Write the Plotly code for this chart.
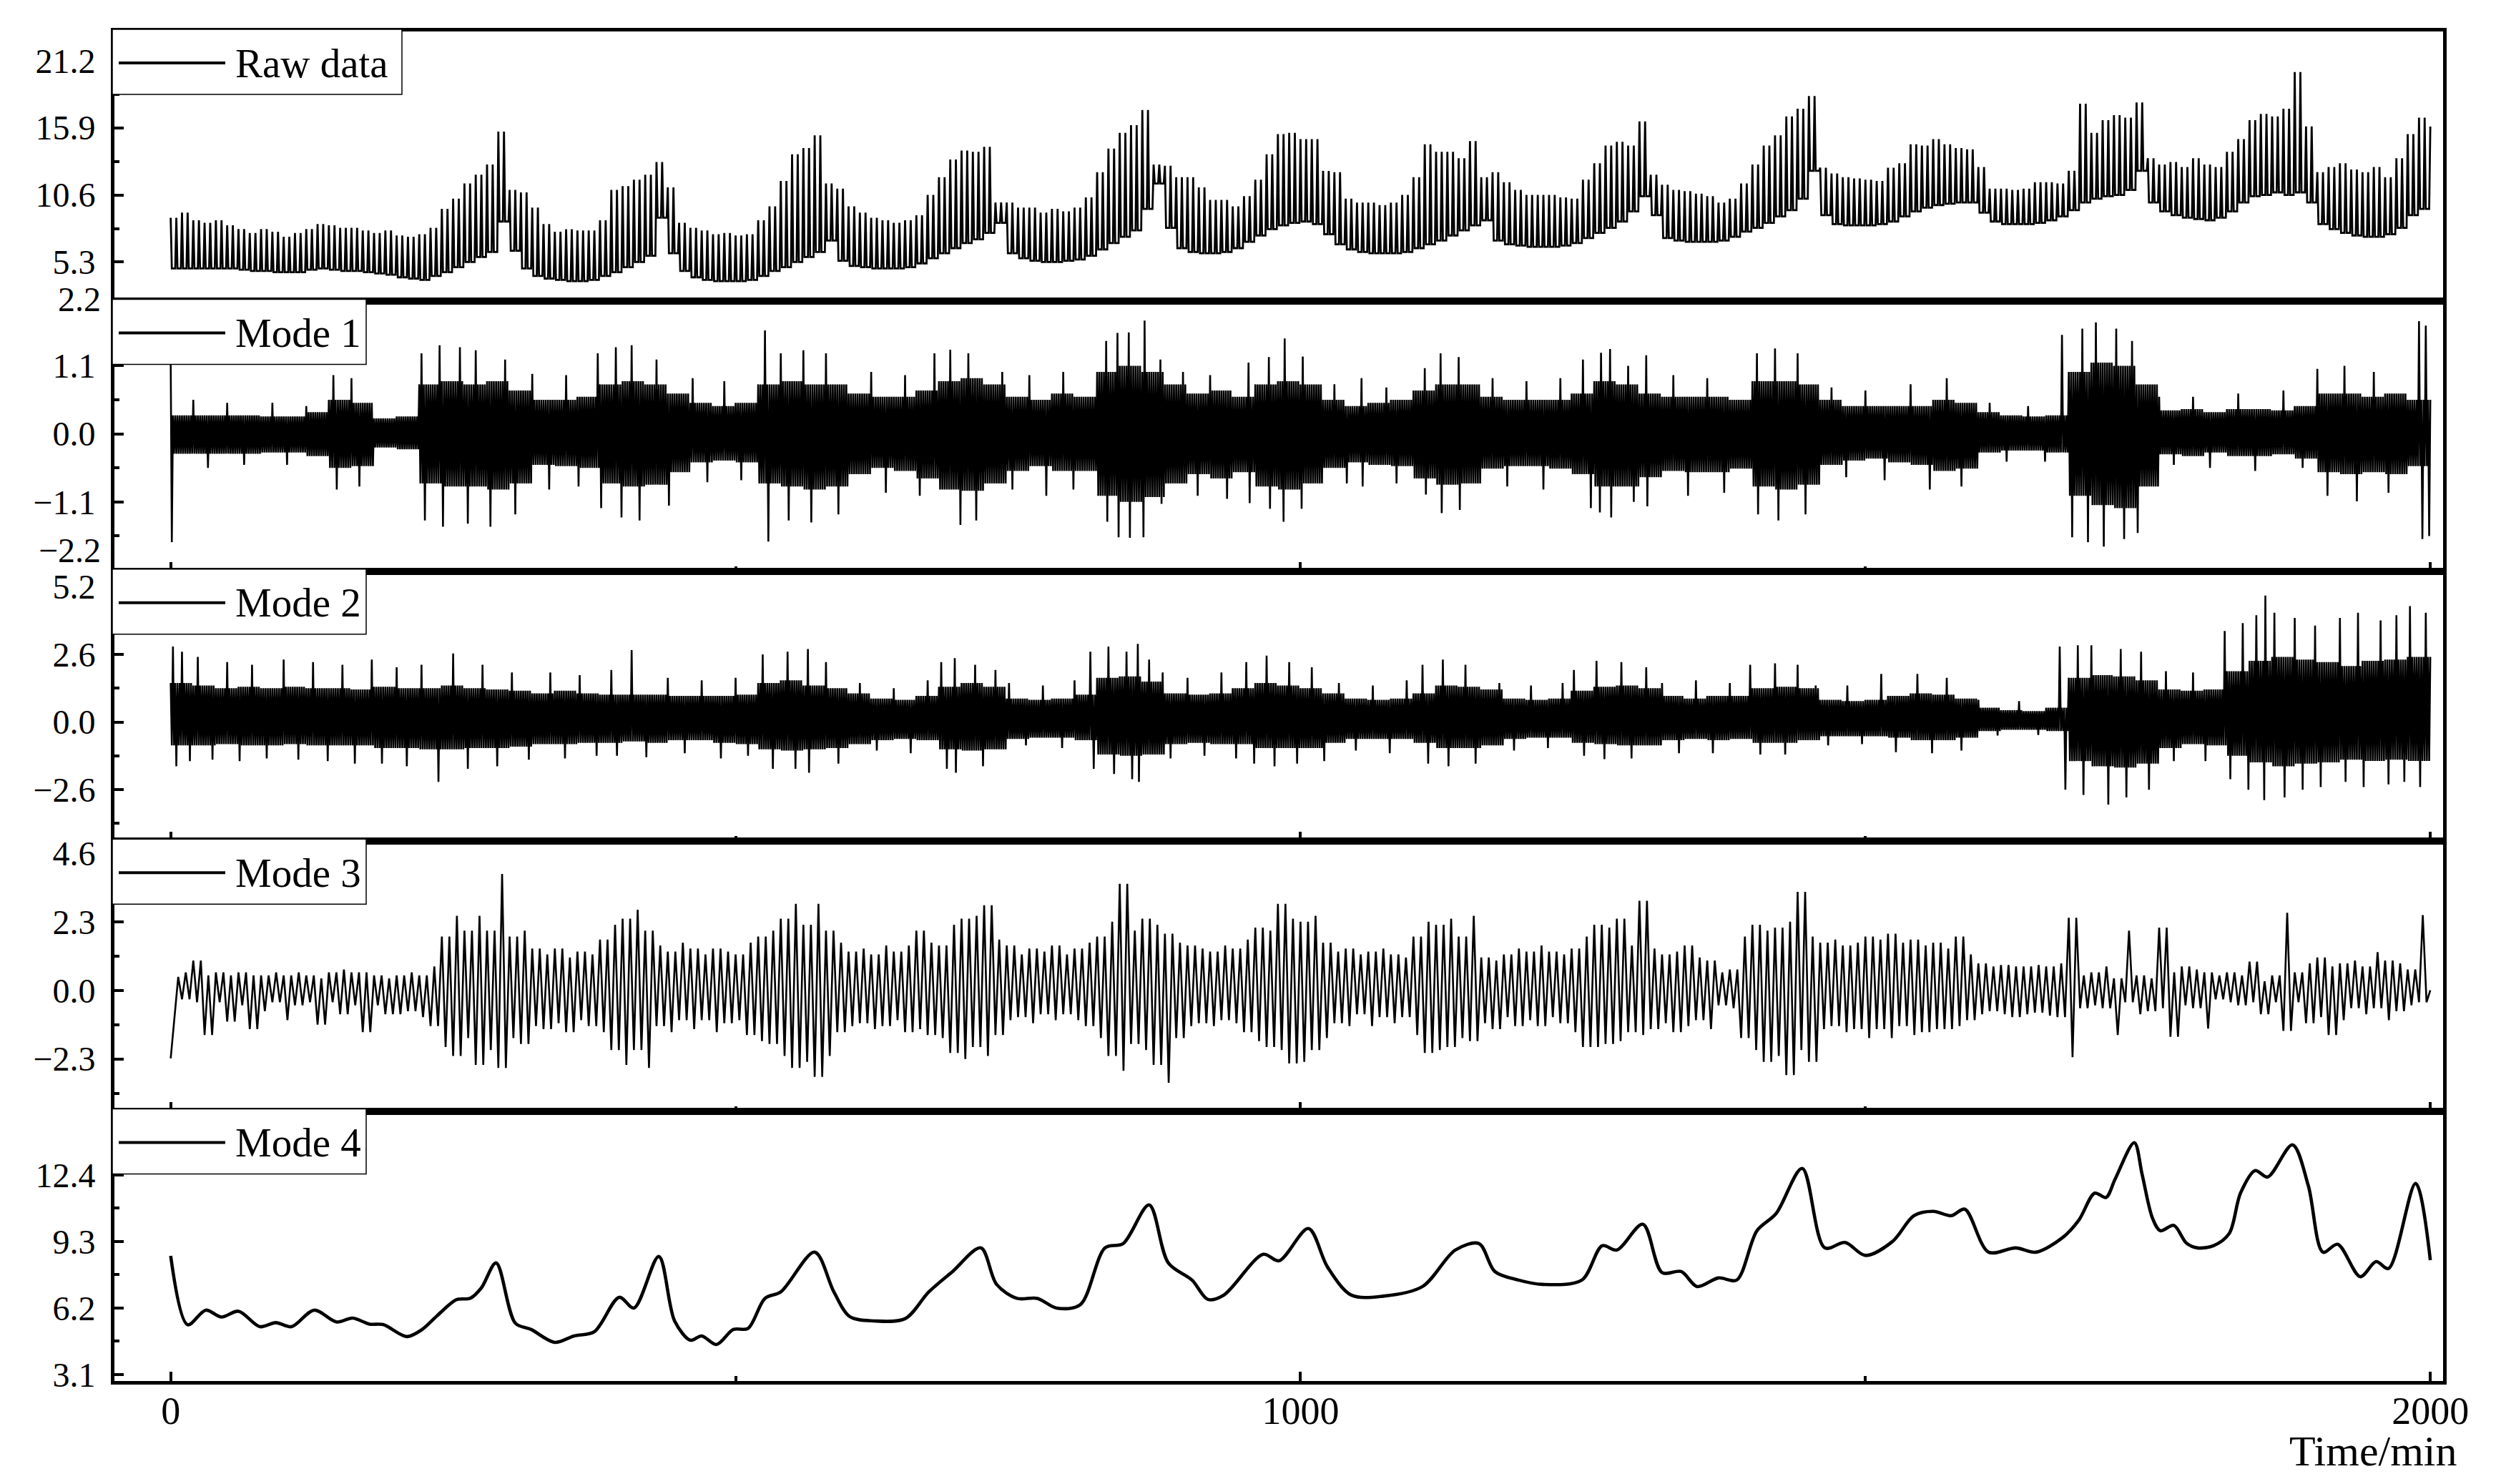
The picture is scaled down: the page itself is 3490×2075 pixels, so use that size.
import numpy as np
import plotly.graph_objects as go

# ---------------- data ----------------
panel_labels = ["Raw data", "Mode 1", "Mode 2", "Mode 3", "Mode 4"]

# Raw data: baseline level and spike tops, one reading per 10 min (t = 0..2000)
raw_base = [
    4.8, 4.8, 4.8, 4.8, 4.8, 4.8, 4.7, 4.6, 4.6, 4.5,
    4.5, 4.5, 4.7, 4.8, 4.7, 4.6, 4.6, 4.5, 4.4, 4.3,
    4.1, 4.0, 3.9, 4.2, 4.5, 4.9, 5.3, 5.7, 6.1, 8.5,
    6.2, 4.8, 4.2, 4.0, 3.9, 3.8, 3.8, 3.9, 4.2, 4.5,
    4.9, 5.3, 5.8, 8.8, 6.0, 4.6, 4.1, 3.9, 3.8, 3.8,
    3.8, 3.9, 4.2, 4.6, 4.9, 5.3, 5.7, 6.1, 7.0, 5.4,
    5.0, 4.9, 4.8, 4.8, 4.8, 4.9, 5.2, 5.6, 6.0, 6.4,
    6.8, 7.1, 7.6, 8.4, 6.0, 5.6, 5.4, 5.3, 5.3, 5.4,
    5.5, 5.8, 6.3, 6.8, 7.3, 7.8, 9.5, 11.5, 8.0, 6.4,
    6.1, 6.0, 6.0, 6.1, 6.4, 6.9, 7.4, 7.9, 8.2, 8.4,
    8.5, 8.3, 7.5, 6.7, 6.3, 6.1, 6.0, 6.0, 6.0, 6.1,
    6.4, 6.7, 7.0, 7.4, 7.8, 8.2, 8.6, 7.0, 6.7, 6.6,
    6.5, 6.5, 6.5, 6.6, 6.8, 7.2, 7.6, 8.0, 8.5, 9.3,
    10.5, 9.0, 7.2, 7.0, 6.9, 6.9, 6.9, 7.0, 7.3, 7.7,
    8.0, 8.4, 8.9, 9.4, 10.3, 12.5, 9.0, 8.3, 8.2, 8.2,
    8.2, 8.3, 8.5, 8.9, 9.3, 9.6, 9.8, 9.9, 10.0, 10.0,
    9.2, 8.5, 8.3, 8.3, 8.3, 8.4, 8.6, 8.9, 9.4, 10.0,
    10.3, 10.5, 10.6, 11.0, 12.5, 10.0, 9.3, 9.0, 8.8, 8.7,
    8.6, 8.8, 9.3, 10.0, 10.5, 10.6, 10.8, 10.6, 10.8, 10.0,
    8.3, 7.9, 7.6, 7.4, 7.3, 7.3, 7.5, 8.0, 9.0, 9.5,
    9.5,
]
raw_peak = [
    8.8, 9.2, 8.6, 8.4, 8.6, 8.2, 7.9, 7.6, 7.9, 7.7,
    7.3, 7.6, 7.9, 8.3, 8.2, 8.0, 8.0, 7.8, 7.6, 7.8,
    7.4, 7.3, 7.5, 8.0, 9.5, 10.3, 11.5, 12.2, 13.0, 15.6,
    11.0, 10.8, 9.6, 8.3, 7.7, 7.9, 7.8, 7.8, 8.6, 11.0,
    11.3, 11.8, 12.2, 13.2, 11.2, 8.4, 8.0, 7.8, 7.5, 7.6,
    7.4, 7.5, 8.6, 9.7, 11.7, 13.8, 14.3, 15.3, 11.5, 11.1,
    9.7, 9.2, 8.8, 8.6, 8.4, 8.6, 9.0, 10.6, 12.0, 13.4,
    14.1, 14.0, 14.4, 10.0, 10.0, 9.6, 9.6, 9.2, 9.5, 9.3,
    9.6, 10.4, 12.4, 14.25, 15.5, 16.1, 17.3, 13.0, 12.9, 12.0,
    12.0, 11.2, 10.2, 10.2, 9.7, 10.5, 11.8, 13.8, 15.4, 15.5,
    15.0, 15.0, 12.5, 12.4, 10.3, 10.0, 10.0, 9.8, 10.0, 10.6,
    12.0, 14.6, 14.0, 14.0, 13.5, 14.85, 12.0, 12.4, 11.6, 11.0,
    10.6, 10.6, 10.6, 10.4, 10.3, 11.8, 13.1, 14.5, 14.8, 14.5,
    16.4, 12.2, 11.4, 11.0, 10.9, 10.7, 10.5, 10.0, 10.3, 11.5,
    13.0, 14.5, 15.3, 16.8, 17.4, 18.4, 12.75, 12.3, 12.0, 11.9,
    11.8, 11.7, 12.75, 13.1, 14.6, 14.5, 15.0, 14.6, 14.3, 14.2,
    12.8, 11.1, 11.1, 11.0, 11.1, 11.6, 11.6, 11.5, 12.5, 17.8,
    15.5, 16.5, 16.9, 16.7, 17.9, 13.5, 13.0, 13.2, 12.8, 13.5,
    13.0, 12.8, 14.0, 15.0, 16.5, 17.0, 16.8, 17.4, 20.3, 16.0,
    12.4, 12.8, 13.1, 12.6, 12.4, 12.8, 12.0, 13.5, 15.4, 16.7,
    16.0,
]

# Mode 1: upper / lower edge of the solid band, one reading per 20 min
mode1_hi = [
    0.3, 0.3, 0.3, 0.3, 0.28, 0.28, 0.35, 0.55, 0.5, 0.25,
    0.28, 0.8, 0.85, 0.8, 0.85, 0.7, 0.55, 0.55, 0.6, 0.8,
    0.85, 0.8, 0.65, 0.5, 0.45, 0.5, 0.8, 0.85, 0.8, 0.8,
    0.65, 0.6, 0.6, 0.7, 0.85, 0.9, 0.8, 0.6, 0.55, 0.65,
    0.6, 1.0, 1.1, 1.0, 0.8, 0.65, 0.7, 0.6, 0.8, 0.85,
    0.8, 0.55, 0.45, 0.5, 0.55, 0.7, 0.8, 0.8, 0.6, 0.55,
    0.55, 0.55, 0.65, 0.85, 0.8, 0.65, 0.6, 0.6, 0.6, 0.55,
    0.85, 0.85, 0.8, 0.55, 0.45, 0.45, 0.45, 0.45, 0.55, 0.5,
    0.35, 0.3, 0.28, 0.3, 1.0, 1.15, 1.1, 0.8, 0.38, 0.4,
    0.35, 0.4, 0.4, 0.38, 0.45, 0.65, 0.65, 0.6, 0.65, 0.55,
    0.55,
]
mode1_lo = [
    -0.32, -0.32, -0.32, -0.32, -0.3, -0.3, -0.36, -0.55, -0.52, -0.22,
    -0.25, -0.8, -0.85, -0.85, -0.9, -0.8, -0.5, -0.52, -0.55, -0.8,
    -0.85, -0.82, -0.62, -0.46, -0.43, -0.46, -0.8, -0.85, -0.9, -0.85,
    -0.65, -0.55, -0.6, -0.72, -0.9, -0.92, -0.8, -0.6, -0.52, -0.6,
    -0.6, -1.0, -1.1, -1.02, -0.8, -0.65, -0.72, -0.62, -0.85, -0.9,
    -0.8, -0.55, -0.46, -0.5, -0.52, -0.72, -0.82, -0.8, -0.56, -0.52,
    -0.52, -0.56, -0.65, -0.85, -0.85, -0.7, -0.6, -0.62, -0.62, -0.56,
    -0.85, -0.9, -0.82, -0.5, -0.43, -0.4, -0.46, -0.5, -0.6, -0.56,
    -0.3, -0.27, -0.27, -0.3, -1.0, -1.15, -1.2, -0.85, -0.33, -0.36,
    -0.3, -0.36, -0.36, -0.33, -0.4, -0.62, -0.65, -0.62, -0.65, -0.52,
    -0.52,
]
# single needles of Mode 1 that stick out of the band (minute, value)
mode1_spike_t = [
    0, 1, 20, 33, 50, 65, 90, 103, 120, 144, 147, 160, 167,
    222, 225, 238, 241, 256, 263, 270, 283, 296, 305, 320, 335, 350, 361,
    378, 381, 394, 399, 408, 415, 430, 441, 462, 475, 490, 505, 526, 529,
    540, 547, 560, 567, 580, 591, 620, 633, 650, 663, 676, 690, 699, 706, 713,
    736, 745, 760, 775, 790, 799, 828, 829, 838, 839, 848, 849, 862, 861,
    876, 877, 896, 909, 920, 935, 954, 955, 972, 973, 986, 985, 1002, 1001,
    1030, 1041, 1054, 1055, 1076, 1085, 1110, 1111, 1124, 1125, 1140, 1141,
    1170, 1183, 1200, 1215, 1230, 1250, 1257, 1266, 1265, 1274, 1275, 1290, 1295,
    1306, 1307, 1330, 1343, 1360, 1375, 1404, 1405, 1420, 1423, 1440, 1447,
    1470, 1483, 1500, 1517, 1540, 1557, 1572, 1585, 1610, 1625, 1644, 1659,
    1674, 1683, 1692, 1697, 1704, 1711, 1722, 1729, 1736, 1741,
    1760, 1773, 1790, 1805, 1830, 1845, 1870, 1887, 1900, 1909, 1924, 1935,
    1950, 1963, 1990, 1993, 1996, 1999,
]
mode1_spike_v = [
    1.2, -1.75, 0.55, -0.55, 0.5, -0.5, 0.5, -0.5, 0.45, 0.95, -0.9, 0.9, -0.85,
    1.3, -1.4, 1.43, -1.5, 1.4, -1.45, 1.35, -1.5, 1.2, -1.3, 0.97, -0.9, 0.95, -0.85,
    1.3, -1.2, 1.4, -1.35, 1.43, -1.4, 1.2, -1.16, 0.9, -0.78, 0.85, -0.75, 1.67, -1.74,
    1.3, -1.4, 1.35, -1.43, 1.3, -1.3, 1.0, -0.95, 0.95, -1.0, 1.3, 1.36, -1.47, 1.3, -1.4,
    1.0, -0.9, 0.95, -1.0, 1.0, -0.9, 1.5, -1.42, 1.63, -1.67, 1.64, -1.68, 1.83, -1.67,
    1.2, -1.13, 1.0, -1.0, 0.95, -1.05, 1.15, -1.12, 1.24, -1.21, 1.54, -1.42, 1.25, -1.21,
    0.8, -0.8, 0.9, -0.85, 0.75, -0.8, 1.06, -0.98, 1.3, -1.28, 1.24, -1.23,
    0.9, -0.85, 0.85, -0.9, 0.9, 1.2, -1.2, 1.31, -1.27, 1.37, -1.35, 1.1, -1.1,
    1.27, -1.17, 0.95, -1.0, 0.9, -0.95, 1.3, -1.3, 1.38, -1.4, 1.3, -1.3,
    0.75, -0.7, 0.7, -0.75, 0.8, -0.9, 0.9, -0.85, 0.5, -0.45, 0.45, -0.45,
    1.6, -1.67, 1.7, -1.75, 1.8, -1.82, 1.7, -1.7, 1.5, -1.6,
    0.6, -0.5, 0.6, -0.55, 0.65, -0.6, 0.7, -0.55, 1.05, -1.0, 1.1, -1.09,
    1.0, -0.95, 1.82, -1.7, 1.75, -1.65,
]

# Mode 2: upper / lower edge of the solid band, one reading per 20 min
mode2_hi = [
    1.5, 1.4, 1.3, 1.35, 1.3, 1.35, 1.3, 1.3, 1.25, 1.35,
    1.3, 1.3, 1.4, 1.3, 1.25, 1.2, 1.1, 1.2, 1.1, 1.05,
    1.05, 1.05, 1.0, 1.0, 1.0, 1.05, 1.5, 1.6, 1.4, 1.3,
    1.1, 0.9, 0.85, 1.0, 1.35, 1.5, 1.35, 0.9, 0.85, 0.9,
    1.05, 1.7, 1.75, 1.55, 1.1, 1.05, 1.1, 1.3, 1.5, 1.4,
    1.3, 1.1, 0.9, 0.85, 0.9, 1.1, 1.4, 1.35, 1.25, 0.9,
    0.85, 0.9, 1.2, 1.35, 1.4, 1.3, 1.0, 0.9, 1.0, 1.0,
    1.3, 1.35, 1.3, 0.85, 0.8, 0.85, 1.0, 1.1, 1.05, 0.9,
    0.55, 0.45, 0.42, 0.55, 1.7, 1.8, 1.75, 1.6, 1.25, 1.2,
    1.25, 1.95, 2.35, 2.5, 2.4, 2.3, 2.15, 2.35, 2.4, 2.5,
    2.5,
]
mode2_lo = [
    -0.9, -0.9, -0.85, -0.9, -0.9, -0.85, -0.9, -0.9, -0.9, -1.0,
    -1.0, -1.05, -1.05, -1.0, -1.0, -0.95, -0.85, -0.85, -0.8, -0.8,
    -0.75, -0.8, -0.7, -0.7, -0.8, -0.85, -1.05, -1.1, -1.05, -1.0,
    -0.85, -0.7, -0.65, -0.7, -1.05, -1.1, -1.05, -0.65, -0.6, -0.6,
    -0.7, -1.25, -1.3, -1.25, -0.85, -0.8, -0.85, -0.85, -1.0, -1.0,
    -1.0, -0.8, -0.65, -0.65, -0.65, -0.8, -1.0, -1.0, -0.9, -0.65,
    -0.6, -0.6, -0.8, -0.85, -0.9, -0.9, -0.7, -0.65, -0.7, -0.65,
    -0.8, -0.8, -0.7, -0.55, -0.55, -0.55, -0.6, -0.7, -0.7, -0.6,
    -0.35, -0.3, -0.3, -0.35, -1.5, -1.7, -1.75, -1.6, -1.0, -0.85,
    -0.9, -1.3, -1.55, -1.7, -1.6, -1.55, -1.45, -1.5, -1.45, -1.5,
    -1.5,
]
mode2_spike_t = [
    2, 5, 10, 17, 24, 37, 50, 61, 72, 85, 100, 113, 126, 139, 152, 163, 178, 187, 200, 209,
    222, 237, 250, 263, 276, 289, 302, 317, 336, 349, 362, 377, 390, 395, 408, 421,
    440, 455, 470, 487, 500, 511, 524, 533, 546, 553, 564, 565, 580, 591,
    610, 625, 640, 655, 670, 682, 687, 694, 695, 712, 719, 730,
    742, 757, 772, 789, 800, 814, 817, 830, 835, 846, 851, 856, 857, 866,
    878, 885, 900, 915, 930, 943, 952, 959, 970, 977, 990, 997, 1010, 1021,
    1034, 1049, 1064, 1079, 1094, 1108, 1113, 1126, 1131, 1146, 1155,
    1176, 1189, 1204, 1219, 1232, 1242, 1251, 1262, 1269, 1284, 1293, 1306,
    1320, 1335, 1350, 1365, 1380, 1398, 1407, 1420, 1429, 1440,
    1456, 1467, 1484, 1497, 1514, 1527, 1546, 1559, 1572, 1585,
    1600, 1617, 1636, 1653, 1672, 1677, 1688, 1693, 1700, 1715, 1726, 1731, 1744, 1751,
    1766, 1773, 1790, 1801, 1818, 1823, 1834, 1839, 1846, 1853, 1854, 1862, 1871,
    1880, 1887, 1898, 1903, 1920, 1925, 1936, 1941, 1956, 1963, 1970, 1977, 1982, 1991, 1996,
]
mode2_spike_v = [
    2.9, -1.7, 2.7, -1.5, 2.5, -1.45, 2.3, -1.5, 2.2, -1.4, 2.4, -1.45, 2.3, -1.5, 2.2, -1.6, 2.4, -1.6, 2.1, -1.7,
    2.2, -2.3, 2.63, -1.8, 2.2, -1.7, 1.9, -1.45, 1.9, -1.4, 1.8, -1.3, 2.0, -1.3, 2.76, -1.35,
    1.7, -1.2, 1.6, -1.4, 1.7, -1.3, 2.6, -1.8, 2.7, -1.8, 2.8, -1.95, 2.3, -1.6,
    1.5, -1.1, 1.3, -1.2, 1.6, 2.3, -1.8, 2.45, -1.95, 2.2, -1.7, 2.0,
    1.5, -0.9, 1.4, -1.0, 1.6, 2.7, -1.8, 2.9, -2.0, 2.7, -2.2, 3.0, -2.3, 2.4,
    1.9, -1.4, 1.7, -1.3, 1.9, -1.4, 2.3, -1.6, 2.55, -1.7, 2.3, -1.6, 2.1, -1.5,
    1.5, -1.1, 1.4, -1.2, 1.6, 2.2, -1.6, 2.4, -1.7, 2.2, -1.6,
    1.5, -1.1, 1.4, -1.0, 1.5, 2.0, -1.3, 2.35, -1.43, 2.3, -1.4, 2.1,
    1.5, -1.2, 1.6, -1.2, 1.5, 2.2, -1.25, 2.25, -1.25, 2.2,
    1.4, -0.9, 1.4, -0.85, 1.85, -1.16, 1.85, -1.2, 1.7, -1.1,
    0.85, -0.52, 0.8, -0.5, 2.9, -2.6, 2.95, -2.8, 2.95, -3.17, 2.8, -2.9, 2.7, -2.6,
    1.95, -1.5, 1.9, -1.5, 3.5, -2.2, 3.8, -2.6, 4.1, -3.0, 4.86, 4.2, -2.9,
    4.0, -2.6, 3.7, -2.5, 4.0, -2.3, 4.2, -2.5, 3.9, -2.4, 4.1, -2.3, 4.45, -2.5, 4.2,
]

# Mode 3: crest / trough of the oscillation, one reading per 10 min
mode3_hi = [
    0.5, 0.6, 1.0, 0.5, 0.6, 0.5, 0.6, 0.5, 0.5, 0.6,
    0.5, 0.6, 0.5, 0.4, 0.6, 0.7, 0.6, 0.6, 0.5, 0.4,
    0.5, 0.6, 0.5, 0.8, 1.8, 2.5, 2.0, 2.5, 2.0, 3.9,
    1.8, 2.0, 1.4, 1.2, 1.4, 1.1, 1.3, 1.2, 1.7, 2.2,
    2.4, 2.7, 2.0, 1.5, 1.3, 1.6, 1.4, 1.2, 1.4, 1.3,
    1.2, 1.6, 1.8, 2.0, 2.4, 2.9, 2.2, 2.9, 2.0, 1.6,
    1.3, 1.4, 1.2, 1.5, 1.3, 1.5, 2.0, 1.6, 1.5, 2.2,
    2.4, 2.5, 2.85, 1.7, 1.5, 1.2, 1.4, 1.3, 1.5, 1.2,
    1.4, 1.6, 1.8, 2.3, 3.57, 2.0, 2.4, 2.2, 1.9, 1.6,
    1.5, 1.4, 1.3, 1.5, 1.4, 1.7, 2.1, 2.0, 2.9, 2.4,
    2.3, 2.5, 1.6, 1.3, 1.4, 1.2, 1.3, 1.4, 1.2, 1.1,
    1.8, 2.3, 2.2, 2.4, 1.8, 2.5, 1.1, 1.0, 1.2, 1.4,
    1.3, 1.5, 1.3, 1.2, 1.4, 1.8, 2.2, 2.1, 2.4, 1.5,
    3.0, 1.4, 1.2, 1.3, 1.5, 1.1, 1.0, 0.6, 0.7, 1.8,
    2.2, 2.0, 2.1, 2.3, 3.3, 1.8, 1.6, 1.7, 1.5, 1.6,
    1.8, 1.7, 1.9, 1.6, 1.7, 1.5, 1.6, 1.4, 1.8, 1.2,
    0.9, 0.8, 0.85, 0.8, 0.8, 0.85, 0.8, 0.9, 2.43, 0.5,
    0.6, 0.8, 0.4, 2.0, 0.5, 0.4, 2.1, 0.6, 0.8, 0.7,
    0.6, 0.5, 0.6, 0.5, 0.96, 0.3, 0.5, 2.6, 0.6, 0.9,
    1.1, 0.8, 0.9, 1.0, 0.8, 1.28, 1.0, 0.9, 0.7, 2.52,
    0.0,
]
mode3_lo = [
    -0.3, -0.3, -0.4, -1.5, -0.4, -1.05, -0.5, -1.3, -0.7, -0.4,
    -1.0, -0.5, -0.4, -1.15, -0.4, -0.8, -0.5, -1.4, -0.5, -0.8,
    -0.8, -0.7, -0.9, -1.2, -1.9, -2.2, -1.6, -2.5, -2.0, -2.6,
    -1.6, -1.8, -1.2, -1.3, -1.1, -1.4, -1.0, -1.2, -1.4, -2.0,
    -2.5, -2.0, -2.6, -1.2, -1.4, -1.0, -1.3, -1.0, -1.4, -1.1,
    -1.0, -1.5, -1.7, -1.8, -2.2, -2.6, -2.4, -2.9, -2.2, -1.4,
    -1.2, -1.1, -1.3, -1.2, -1.0, -1.4, -1.3, -1.5, -1.6, -2.1,
    -2.3, -1.9, -2.2, -1.5, -1.0, -0.9, -1.1, -0.8, -1.0, -0.8,
    -1.0, -1.2, -1.6, -2.2, -2.7, -1.8, -2.0, -2.5, -3.1, -1.6,
    -1.2, -1.1, -1.2, -1.0, -1.1, -1.4, -1.7, -1.9, -2.0, -2.45,
    -2.4, -2.0, -1.6, -1.1, -1.2, -0.8, -1.2, -0.9, -1.1, -0.9,
    -1.5, -2.1, -2.0, -1.9, -1.6, -1.7, -1.1, -1.3, -0.9, -1.2,
    -1.0, -1.2, -0.9, -1.1, -1.4, -1.9, -1.9, -1.8, -1.7, -1.4,
    -1.5, -1.3, -1.1, -1.4, -1.2, -1.0, -1.3, -0.5, -0.6, -1.6,
    -2.0, -2.4, -2.2, -2.84, -2.0, -2.4, -1.3, -1.2, -1.4, -1.3,
    -1.6, -1.3, -1.6, -1.2, -1.5, -1.4, -1.3, -1.3, -1.2, -1.0,
    -0.8, -0.7, -0.8, -0.9, -0.8, -0.75, -0.85, -0.9, -2.24, -0.6,
    -0.5, -0.6, -1.5, -0.4, -0.8, -0.7, -0.6, -1.56, -0.5, -0.6,
    -1.28, -0.3, -0.4, -0.5, -0.4, -0.8, -0.4, -1.36, -0.4, -1.1,
    -0.9, -1.5, -1.0, -0.6, -0.8, -0.6, -1.0, -0.7, -0.5, -0.4,
    0.0,
]
mode3_start = [-2.28, -0.9, 0.45]   # first three readings (initial rise)

# Mode 4: smooth trend, read at its turning points
mode4_t = [0, 15, 31, 45, 60, 79, 93, 107, 127, 147, 161, 176, 188, 209, 222, 236,
           253, 265, 275, 288, 305, 319, 340, 357, 375, 397, 410, 432, 446, 460,
           470, 483, 498, 511, 526, 540, 570, 587, 601, 622, 650, 671, 692, 717,
           731, 749, 767, 784, 805, 827, 843, 866, 883, 904, 918, 932, 967, 981,
           1007, 1024, 1045, 1073, 1108, 1137, 1158, 1172, 1193, 1214, 1249, 1267,
           1280, 1303, 1320, 1337, 1351, 1370, 1386, 1404, 1421, 1444, 1464, 1482,
           1500, 1524, 1543, 1560, 1576, 1588, 1609, 1633, 1651, 1675, 1689, 1703,
           1713, 1721, 1738, 1745, 1754, 1761, 1773, 1784, 1794, 1808, 1822, 1832,
           1845, 1856, 1878, 1892, 1905, 1918, 1938, 1952, 1963, 1987, 2000]
mode4_v = [8.63, 5.42, 6.1, 5.78, 6.05, 5.33, 5.52, 5.33, 6.1, 5.55, 5.73, 5.45, 5.43, 4.87, 5.18, 5.85,
           6.59, 6.65, 7.14, 8.3, 5.5, 5.2, 4.6, 4.9, 5.1, 6.7, 6.2, 8.6, 5.6, 4.7,
           4.9, 4.5, 5.2, 5.25, 6.65, 6.95, 8.8, 6.95, 5.8, 5.6, 5.7, 6.95, 7.9, 9.0,
           7.3, 6.65, 6.65, 6.2, 6.35, 9.0, 9.2, 11.0, 8.3, 7.5, 6.6, 6.8, 8.7, 8.4,
           9.9, 8.1, 6.8, 6.75, 7.2, 8.9, 9.2, 7.9, 7.5, 7.3, 7.5, 9.1,
           8.9, 10.1, 7.85, 7.9, 7.2, 7.6, 7.5, 9.8, 10.6, 12.7, 9.0, 9.25,
           8.65, 9.3, 10.5, 10.7, 10.5, 10.8, 8.8, 9.0, 8.8, 9.5, 10.3, 11.55,
           11.35, 12.2, 13.9, 12.4, 10.4, 9.8, 10.05, 9.23, 9.0, 9.1, 9.67, 11.55,
           12.6, 12.3, 13.8, 11.9, 8.8, 9.17, 7.66, 8.36, 8.04, 12.0, 8.43]

# axis tick values
raw_tickvals = [2.2, 5.3, 10.6, 15.9, 21.2]
raw_minor_tickvals = [7.95, 13.25, 18.55]
mode1_tickvals = [-2.2, -1.1, 0.0, 1.1]

# ---------------- build the drawn series from the readings ----------------
minutes = np.arange(0, 2001)

raw_y = np.where(minutes % 5 == 0,
                 np.array(raw_peak)[minutes // 10],
                 np.array(raw_base)[minutes // 10])


def band(hi, lo, spike_t, spike_v):
    seg = minutes // 20
    y = np.where(minutes % 2 == 0, np.array(hi)[seg], np.array(lo)[seg]).astype(float)
    y[np.array(spike_t)] = spike_v
    return y


mode1_y = band(mode1_hi, mode1_lo, mode1_spike_t, mode1_spike_v)
mode2_y = band(mode2_hi, mode2_lo, mode2_spike_t, mode2_spike_v)

mode3_x, mode3_y = [], []
for s in range(200):
    for j in range(3):
        k = 3 * s + j
        mode3_x.append(s * 10 + j * 10 / 3)
        mode3_y.append(mode3_hi[s] if k % 2 == 0 else mode3_lo[s])
mode3_x.append(2000)
mode3_y.append(mode3_hi[200])
mode3_y[:3] = mode3_start

# ---------------- figure ----------------
FONT = "Liberation Serif"
W, H = 3490, 2075
ML, MR, MT, MB = 152, 82, 36, 152
PW = W - ML - MR
PH = H - MT - MB
PANEL_H = PH / 5

fig = go.Figure()
series = [
    (minutes, raw_y, 2.8, "linear"),
    (minutes, mode1_y, 2.6, "linear"),
    (minutes, mode2_y, 2.6, "linear"),
    (mode3_x, mode3_y, 2.6, "linear"),
    (mode4_t, mode4_v, 4.6, "spline"),
]
for i, (xs, ys, lw, shape) in enumerate(series):
    suffix = "" if i == 0 else str(i + 1)
    line = dict(color="black", width=lw, shape=shape)
    if shape == "spline":
        line["smoothing"] = 0.9
    fig.add_trace(go.Scatter(x=xs, y=ys, mode="lines", line=line,
                             name=panel_labels[i], showlegend=False,
                             xaxis="x" + suffix, yaxis="y" + suffix,
                             hoverinfo="skip"))

y_ranges = [[2.2, 23.5], [-2.22, 2.14], [-4.58, 5.79], [-4.05, 5.0], [2.8, 15.37]]
y_dticks = [None, 1.1, 2.6, 2.3, 3.1]
YFS = 48

layout = dict(
    width=W, height=H,
    margin=dict(l=ML, r=MR, t=MT, b=MB),
    paper_bgcolor="white", plot_bgcolor="white",
    font=dict(family=FONT, color="black"),
    showlegend=False,
)

for i in range(5):
    suffix = "" if i == 0 else str(i + 1)
    top = 1 - i * 0.2
    bottom = 1 - (i + 1) * 0.2
    xa = dict(
        domain=[0, 1], range=[-49.8, 2011.3], anchor="y" + suffix,
        showline=True, linewidth=5, linecolor="black", mirror=True,
        showgrid=False, zeroline=False,
        tickmode="linear", tick0=0, dtick=1000,
        ticks="inside" if i > 0 else "", ticklen=13, tickwidth=4, tickcolor="black",
        minor=dict(ticks="inside" if i > 0 else "", ticklen=7, tickwidth=4,
                   tick0=0, dtick=500, tickcolor="black", showgrid=False),
        showticklabels=(i == 4),
        tickfont=dict(family=FONT, size=54, color="black"),
        ticklabelstandoff=-10,
    )
    if i > 0:
        xa["matches"] = "x"
    ya = dict(
        domain=[bottom, top], range=y_ranges[i], anchor="x" + suffix,
        showline=True, linewidth=5, linecolor="black", mirror=True,
        showgrid=False, zeroline=False,
        ticks="inside", ticklen=13, tickwidth=4, tickcolor="black",
        tickformat=".1f",
        tickfont=dict(family=FONT, size=YFS, color="black"),
        ticklabelstandoff=12,
    )
    if i == 0:
        ya.update(tickmode="array", tickvals=raw_tickvals,
                  ticktext=[""] + ["%.1f" % v for v in raw_tickvals[1:]])
        ya["minor"] = dict(ticks="inside", ticklen=7, tickwidth=4, tickcolor="black",
                           tickmode="array", tickvals=raw_minor_tickvals)
    elif i == 1:
        ya.update(tickmode="array", tickvals=mode1_tickvals,
                  ticktext=[""] + [("%.1f" % v).replace("-", "\u2212") for v in mode1_tickvals[1:]])
        ya["minor"] = dict(ticks="inside", ticklen=7, tickwidth=4, tickcolor="black",
                           tick0=0, dtick=0.55)
    else:
        ya.update(tickmode="linear", tick0=0, dtick=y_dticks[i])
        ya["minor"] = dict(ticks="inside", ticklen=7, tickwidth=4, tickcolor="black",
                           tick0=0, dtick=y_dticks[i] / 2)
    layout["xaxis" + suffix] = xa
    layout["yaxis" + suffix] = ya

fig.update_layout(**layout)

# legend-like boxes (line sample + label) in the top-left corner of every panel
shapes = []
annotations = []
box_widths = [402, 352, 352, 352, 352]
BOX_H = 88
for i in range(5):
    suffix = "" if i == 0 else str(i + 1)
    xr = "x" + suffix + " domain"
    yr = "y" + suffix + " domain"
    shapes.append(dict(type="rect", xref=xr, yref=yr, layer="above",
                       x0=-3 / PW, x1=box_widths[i] / PW,
                       y0=1 - BOX_H / PANEL_H, y1=1 + 3 / PANEL_H,
                       fillcolor="white", line=dict(color="black", width=1.5)))
    yc = 1 - (BOX_H / 2) / PANEL_H
    shapes.append(dict(type="line", xref=xr, yref=yr, layer="above",
                       x0=6 / PW, x1=155 / PW, y0=yc, y1=yc,
                       line=dict(color="black", width=4)))
    annotations.append(dict(text=panel_labels[i], xref=xr, yref=yr,
                            x=167 / PW, y=yc, xanchor="left", yanchor="middle",
                            showarrow=False,
                            font=dict(family=FONT, size=57, color="black")))

# edge labels placed as in the original
annotations.append(dict(text="%.1f" % raw_tickvals[0], xref="x domain", yref="y",
                        x=0, y=raw_tickvals[0], xanchor="right", yanchor="middle",
                        xshift=-17, yshift=3, showarrow=False,
                        font=dict(family=FONT, size=YFS, color="black")))
annotations.append(dict(text=("%.1f" % mode1_tickvals[0]).replace("-", "\u2212"),
                        xref="x2 domain", yref="y2", x=0, y=mode1_tickvals[0],
                        xanchor="right", yanchor="middle", xshift=-17, yshift=28,
                        showarrow=False, font=dict(family=FONT, size=YFS, color="black")))
# axis title
annotations.append(dict(text="Time/min", xref="paper", yref="paper",
                        x=(3430 - ML) / PW, y=-(2021 - (H - MB)) / PH,
                        xanchor="right", yanchor="middle", showarrow=False,
                        font=dict(family=FONT, size=60, color="black")))

fig.update_layout(shapes=shapes, annotations=annotations)
fig.write_html("out.html")
